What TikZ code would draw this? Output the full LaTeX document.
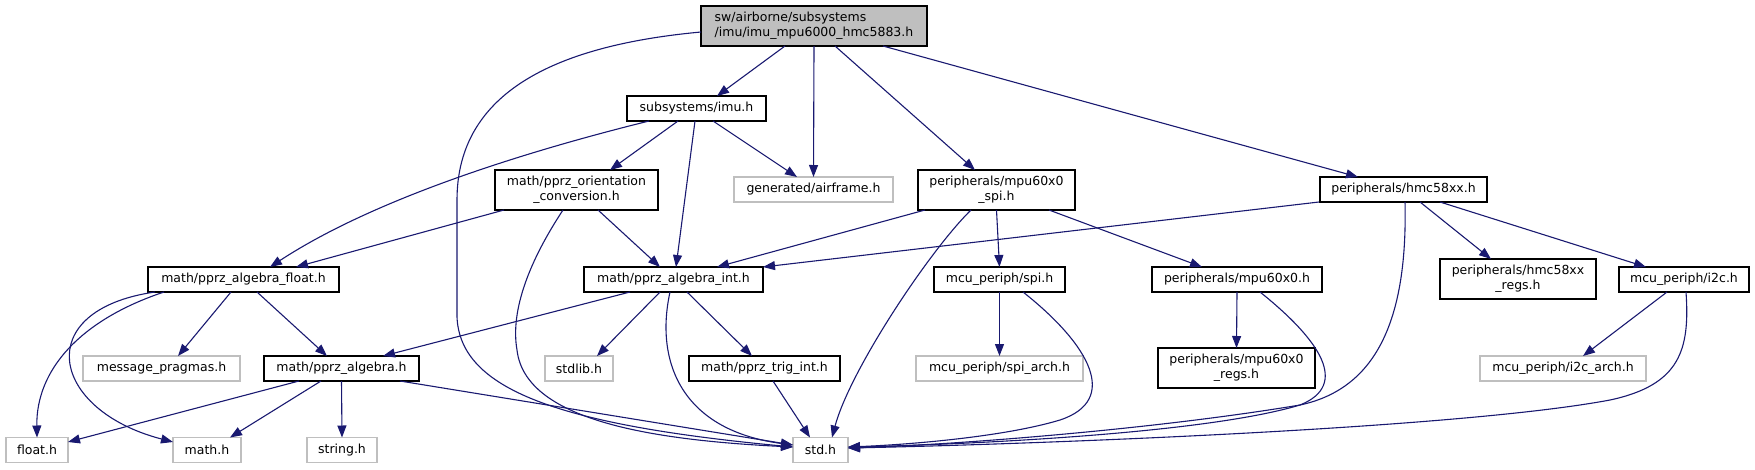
\documentclass[tikz,border=0pt]{standalone}
\usepackage{fontspec}
\setmainfont{DejaVu Sans}
\usetikzlibrary{arrows.meta}
\definecolor{edgeblue}{HTML}{191970}
\definecolor{greyb}{HTML}{BFBFBF}
\tikzset{
  nd/.style={draw=black, fill=white, line width=1.3pt, inner sep=0pt, outer sep=0pt,
    minimum height=25pt, align=center, font=\fontsize{12.5pt}{15pt}\selectfont},
  gr/.style={nd, draw=greyb},
  e/.style={draw=edgeblue, line width=1.1pt, -{Triangle[length=12pt,width=9pt]}}
}
\begin{document}
\begin{tikzpicture}[x=1pt,y=-1pt]
\useasboundingbox (0,0) rectangle (1755,469);
% nodes
\node[nd, fill=greyb, minimum width=226pt, minimum height=40pt, align=left] (top) at (814,26) {sw/airborne/subsystems\\/imu/imu\_mpu6000\_hmc5883.h};
\node[nd, minimum width=139pt] (imu) at (696.5,108.5) {subsystems/imu.h};
\node[gr, minimum width=159pt] (airframe) at (813.5,189.5) {generated/airframe.h};
\node[nd, minimum width=157pt, minimum height=40pt] (spi0) at (996.5,190) {peripherals/mpu60x0\\\_spi.h};
\node[nd, minimum width=167pt] (hmc) at (1403.5,189.5) {peripherals/hmc58xx.h};
\node[nd, minimum width=163pt, minimum height=40pt] (orient) at (576.5,190) {math/pprz\_orientation\\\_conversion.h};
\node[nd, minimum width=191pt] (flt) at (243.5,279.5) {math/pprz\_algebra\_float.h};
\node[nd, minimum width=179pt] (aint) at (673.5,279.5) {math/pprz\_algebra\_int.h};
\node[nd, minimum width=131pt] (spih) at (999.5,279.5) {mcu\_periph/spi.h};
\node[nd, minimum width=170pt] (mpu) at (1237,279.5) {peripherals/mpu60x0.h};
\node[nd, minimum width=156pt, minimum height=40pt] (hmcregs) at (1518,279) {peripherals/hmc58xx\\\_regs.h};
\node[nd, minimum width=130pt] (i2c) at (1684,279.5) {mcu\_periph/i2c.h};
\node[gr, minimum width=157pt] (msg) at (161.5,368.5) {message\_pragmas.h};
\node[nd, minimum width=155pt] (alg) at (341.5,368.5) {math/pprz\_algebra.h};
\node[gr, minimum width=68pt] (stdlib) at (579,368.5) {stdlib.h};
\node[nd, minimum width=151pt] (trig) at (764.5,368.5) {math/pprz\_trig\_int.h};
\node[gr, minimum width=167pt] (spiarch) at (999.5,368.5) {mcu\_periph/spi\_arch.h};
\node[nd, minimum width=157pt, minimum height=40pt] (mpuregs) at (1236.5,368) {peripherals/mpu60x0\\\_regs.h};
\node[gr, minimum width=166pt] (i2carch) at (1563,368.5) {mcu\_periph/i2c\_arch.h};
\node[gr, minimum width=62pt] (floath) at (37,450) {float.h};
\node[gr, minimum width=68pt] (mathh) at (207,450) {math.h};
\node[gr, minimum width=70pt] (stringh) at (342,450) {string.h};
\node[gr, minimum width=55pt] (stdh) at (820.5,450) {std.h};
% edges from top
\draw[e] ([yshift=-6pt]top.west) .. controls (560,45) and (457,90) .. (457,200) -- (457,317)
   .. controls (460,390) and (560,425) .. ([yshift=3pt]stdh.west);
\draw[e] ([xshift=-29pt]top.south) -- ([xshift=20.5pt]imu.north);
\draw[e] (top.south) -- (airframe.north);
\draw[e] ([xshift=21pt]top.south) -- ([xshift=-21.5pt]spi0.north);
\draw[e] ([xshift=69pt]top.south) -- ([xshift=-45.5pt]hmc.north);
% from imu
\draw[e] ([xshift=-47.5pt]imu.south) .. controls (540,148) and (380,195) .. ([xshift=26.5pt]flt.north);
\draw[e] ([xshift=-18.5pt]imu.south) -- ([xshift=33.5pt]orient.north);
\draw[e] ([xshift=-1.5pt]imu.south) -- ([xshift=2.5pt]aint.north);
\draw[e] ([xshift=16.5pt]imu.south) -- ([xshift=-16.5pt]airframe.north);
% from orient
\draw[e] ([xshift=-72.5pt]orient.south) -- ([xshift=52.5pt]flt.north);
\draw[e] ([xshift=-13.5pt]orient.south) .. controls (530,260) and (510,310) .. (517,350)
   .. controls (525,420) and (650,440) .. ([yshift=3pt]stdh.west);
\draw[e] ([xshift=21.5pt]orient.south) -- ([xshift=-13.5pt]aint.north);
% from spi0
\draw[e] ([xshift=-71.5pt]spi0.south) -- ([xshift=43.5pt]aint.north);
\draw[e] ([xshift=-25.5pt]spi0.south) .. controls (930,250) and (850,370) .. ([xshift=11.5pt]stdh.north);
\draw[e] (spi0.south) -- (spih.north);
\draw[e] ([xshift=52.5pt]spi0.south) -- ([xshift=-35pt]mpu.north);
% from hmc
\draw[e] ([xshift=-84.5pt]hmc.south) -- (aint.north east);
\draw[e] ([xshift=1.5pt]hmc.south) .. controls (1408,330) and (1370,390) .. (1300,405)
   .. controls (1150,430) and (950,445) .. ([yshift=2pt]stdh.east);
\draw[e] ([xshift=16.5pt]hmc.south) -- ([xshift=-27pt]hmcregs.north);
\draw[e] ([xshift=36.5pt]hmc.south) -- ([xshift=-38pt]i2c.north);
% from aint
\draw[e] ([xshift=-43.5pt]aint.south) -- ([xshift=41.5pt]alg.north);
\draw[e] ([xshift=-13.5pt]aint.south) -- ([xshift=18pt]stdlib.north);
\draw[e] ([xshift=-3.5pt]aint.south) .. controls (655,360) and (680,430) .. ([yshift=5pt]stdh.west);
\draw[e] ([xshift=13.5pt]aint.south) -- ([xshift=-12.5pt]trig.north);
\draw[e] ([xshift=8.5pt]trig.south) -- ([xshift=-10.5pt]stdh.north);
% from flt
\draw[e] ([xshift=-79.5pt]flt.south) .. controls (80,320) and (36,370) .. (floath.north);
\draw[e] ([xshift=-88.5pt]flt.south) .. controls (30,310) and (50,410) .. ([yshift=8pt]mathh.west);
\draw[e] ([xshift=-12.5pt]flt.south) -- ([xshift=16.5pt]msg.north);
\draw[e] ([xshift=13.5pt]flt.south) -- ([xshift=-14.5pt]alg.north);
% from alg
\draw[e] ([xshift=-42.5pt]alg.south) -- ([yshift=8pt]floath.east);
\draw[e] ([xshift=-20.5pt]alg.south) -- ([xshift=23pt]mathh.north);
\draw[e] (alg.south) -- (stringh.north);
\draw[e] ([xshift=58.5pt]alg.south) -- ([yshift=5pt]stdh.west);
% lower right
\draw[e] (spih.south) -- (spiarch.north);
\draw[e] ([xshift=23.5pt]spih.south) .. controls (1090,345) and (1120,400) .. (1060,420)
   .. controls (1000,438) and (900,445) .. ([yshift=3pt]stdh.east);
\draw[e] (mpu.south) -- (mpuregs.north);
\draw[e] ([xshift=23pt]mpu.south) .. controls (1320,340) and (1350,385) .. (1300,405)
   .. controls (1200,435) and (950,445) .. ([yshift=3pt]stdh.east);
\draw[e] ([xshift=-17pt]i2c.south) -- ([xshift=20pt]i2carch.north);
\draw[e] ([xshift=2pt]i2c.south) .. controls (1690,350) and (1680,385) .. (1610,400)
   .. controls (1450,430) and (1000,445) .. ([yshift=2pt]stdh.east);
\end{tikzpicture}
\end{document}
